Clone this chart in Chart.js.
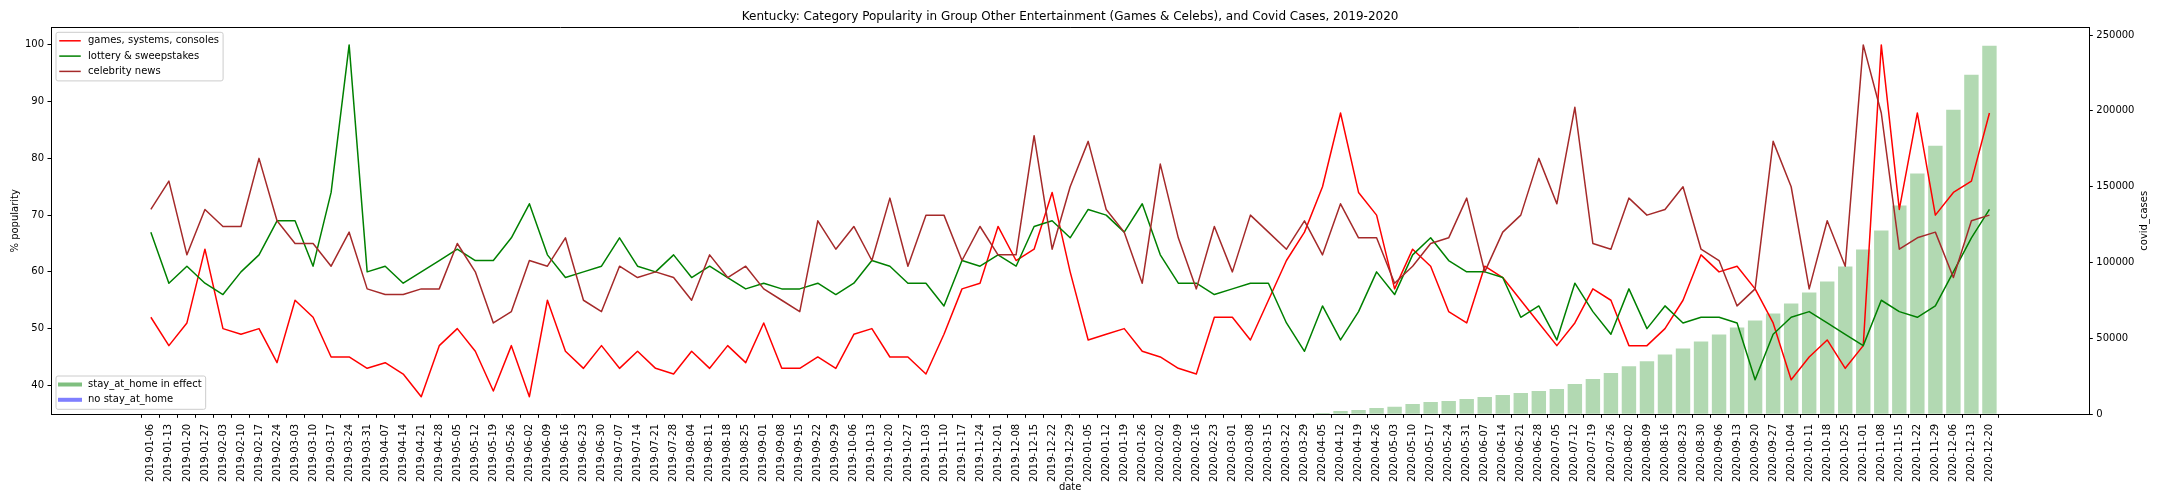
<!DOCTYPE html>
<html>
<head>
<meta charset="utf-8">
<script src="https://cdn.jsdelivr.net/npm/chart.js@4.4.1/dist/chart.umd.min.js"></script>
<style>
html,body{margin:0;padding:0;background:#fff;}
#wrap{width:2160px;height:504px;position:relative;}
canvas{display:block;}
</style>
</head>
<body>
<div id="wrap"><canvas id="c" width="2160" height="504"></canvas></div>
<script>
// ---------- DATA ----------
const dates = [
'2019-01-06','2019-01-13','2019-01-20','2019-01-27','2019-02-03','2019-02-10','2019-02-17','2019-02-24',
'2019-03-03','2019-03-10','2019-03-17','2019-03-24','2019-03-31','2019-04-07','2019-04-14','2019-04-21',
'2019-04-28','2019-05-05','2019-05-12','2019-05-19','2019-05-26','2019-06-02','2019-06-09','2019-06-16',
'2019-06-23','2019-06-30','2019-07-07','2019-07-14','2019-07-21','2019-07-28','2019-08-04','2019-08-11',
'2019-08-18','2019-08-25','2019-09-01','2019-09-08','2019-09-15','2019-09-22','2019-09-29','2019-10-06',
'2019-10-13','2019-10-20','2019-10-27','2019-11-03','2019-11-10','2019-11-17','2019-11-24','2019-12-01',
'2019-12-08','2019-12-15','2019-12-22','2019-12-29',
'2020-01-05','2020-01-12','2020-01-19','2020-01-26','2020-02-02','2020-02-09','2020-02-16','2020-02-23',
'2020-03-01','2020-03-08','2020-03-15','2020-03-22','2020-03-29','2020-04-05','2020-04-12','2020-04-19',
'2020-04-26','2020-05-03','2020-05-10','2020-05-17','2020-05-24','2020-05-31','2020-06-07','2020-06-14',
'2020-06-21','2020-06-28','2020-07-05','2020-07-12','2020-07-19','2020-07-26','2020-08-02','2020-08-09',
'2020-08-16','2020-08-23','2020-08-30','2020-09-06','2020-09-13','2020-09-20','2020-09-27','2020-10-04',
'2020-10-11','2020-10-18','2020-10-25','2020-11-01','2020-11-08','2020-11-15','2020-11-22','2020-11-29',
'2020-12-06','2020-12-13','2020-12-20'
];

const games = [
52,47,51,64,50,49,50,44,55,52,45,45,
43,44,42,38,47,50,46,39,47,38,55,46,43,47,43,46,43,
42,46,43,47,44,51,43,43,45,43,49,50,45,45,42,49,57,58,
68,62,64,74,60,48,49,50,46,45,43,42,52,52,48,55,62,67,
75,88,74,70,57,64,61,53,51,61,59,55,51,47,51,57,55,47,
47,50,55,63,60,61,57,51,41,45,48,43,47,100,71,88,70,74,76,88
];

const lottery = [
67,58,61,58,56,60,63,69,69,61,74,100,
60,61,58,60,62,64,62,62,66,72,63,59,60,61,66,61,60,
63,59,61,59,57,58,57,57,58,56,58,62,61,58,58,54,62,61,
63,61,68,69,66,71,70,67,72,63,58,58,56,57,58,58,51,46,
54,48,53,60,56,63,66,62,60,60,59,52,54,48,58,53,49,57,
50,54,51,52,52,51,41,49,52,53,51,49,47,55,53,52,54,60,66,71
];

const celebrity = [
71,76,63,71,68,68,80,69,65,65,61,67,
57,56,56,57,57,65,60,51,53,62,61,66,55,53,61,59,60,
59,55,63,59,61,57,55,53,69,64,68,62,73,61,70,70,62,68,
63,63,84,64,75,83,71,67,58,79,66,57,68,60,70,67,64,69,
63,72,66,66,58,61,65,66,73,60,67,70,80,72,89,65,64,73,
70,71,75,64,62,54,57,83,75,57,69,61,100,88,64,66,67,59,69,70
];

const covidCases = [
0,0,0,0,0,0,0,0,0,0,0,0,0,0,0,0,0,0,0,0,
0,0,0,0,0,0,0,0,0,0,0,0,0,0,0,0,0,0,0,0,
0,0,0,0,0,0,0,0,0,0,0,0,0,0,0,0,0,0,0,0,
0,0,20,100,
500,900,2200,2900,4100,4900,6800,8100,8800,10100,11400,12700,14000,15400,16700,
20000,23300,27200,31600,34900,39500,43400,48000,52600,57200,61800,66400,73000,
80300,87500,97400,108600,121100,137600,158700,177100,200800,223900,243000
];

const leftTicks = [40,50,60,70,80,90,100];
const rightTicks = [0,50000,100000,150000,200000,250000];
const lineLabels = ['games, systems, consoles','lottery & sweepstakes','celebrity news'];
const lineColors = ['#ff0000','#008000','#a52a2a'];
const stayLabels = ['stay_at_home in effect','no stay_at_home'];
const stayColors = ['rgba(0,128,0,0.5)','rgba(0,0,255,0.5)'];
const titleText = 'Kentucky: Category Popularity in Group Other Entertainment (Games & Celebs), and Covid Cases, 2019-2020';
const xTitle = 'date';
const yTitle = '% popularity';
const y2Title = 'covid_cases';

// ---------- CHART ----------
const FF = "'DejaVu Sans', sans-serif";
Chart.defaults.font.family = FF;
Chart.defaults.font.size = 10;
Chart.defaults.color = '#000';

const pts = arr => arr.map((v, i) => ({x: i, y: v}));
const seriesList = [games, lottery, celebrity];

const datasets = [{
  type: 'bar',
  label: y2Title,
  data: pts(covidCases),
  yAxisID: 'y1',
  xAxisID: 'x',
  backgroundColor: 'rgba(0,128,0,0.3)',
  borderWidth: 0,
  barPercentage: 0.8,
  categoryPercentage: 1.0,
  order: 10
}];
seriesList.forEach((s, k) => {
  datasets.push({
    type: 'line',
    label: lineLabels[k],
    data: pts(s),
    yAxisID: 'y',
    xAxisID: 'x',
    borderColor: lineColors[k],
    backgroundColor: lineColors[k],
    borderWidth: 1.5,
    pointRadius: 0,
    tension: 0,
    fill: false,
    borderJoinStyle: 'round',
    order: 3 - k
  });
});

const axisGrid = {drawOnChartArea: false, drawTicks: true, tickLength: 3.5, tickColor: '#000', tickWidth: 1};
const axisBorder = {display: true, color: '#000', width: 1};

function drawLegend(ctx, left, top, labels, colors, lw) {
  ctx.save();
  ctx.font = '10px ' + FF;
  const pad = 4, handle = 20, gap = 8, row = 15.3, first = 8.5, last = 9.5;
  const tw = Math.max(...labels.map(l => ctx.measureText(l).width));
  const w = pad + handle + gap + tw + pad;
  const h = first + (labels.length - 1) * row + last;
  const r = 2;
  ctx.beginPath();
  ctx.moveTo(left + r, top);
  ctx.lineTo(left + w - r, top);
  ctx.arcTo(left + w, top, left + w, top + r, r);
  ctx.lineTo(left + w, top + h - r);
  ctx.arcTo(left + w, top + h, left + w - r, top + h, r);
  ctx.lineTo(left + r, top + h);
  ctx.arcTo(left, top + h, left, top + h - r, r);
  ctx.lineTo(left, top + r);
  ctx.arcTo(left, top, left + r, top, r);
  ctx.closePath();
  ctx.fillStyle = 'rgba(255,255,255,0.8)';
  ctx.fill();
  ctx.strokeStyle = '#cccccc';
  ctx.lineWidth = 1;
  ctx.stroke();
  labels.forEach((l, k) => {
    const cy = top + first + k * row;
    ctx.beginPath();
    ctx.strokeStyle = colors[k];
    ctx.lineWidth = lw;
    ctx.lineCap = 'square';
    ctx.moveTo(left + pad, cy);
    ctx.lineTo(left + pad + handle, cy);
    ctx.stroke();
    ctx.fillStyle = '#000';
    ctx.textAlign = 'left';
    ctx.textBaseline = 'middle';
    ctx.fillText(l, left + pad + handle + gap, cy);
  });
  ctx.restore();
  return h;
}

const decorPlugin = {
  id: 'decor',
  afterDraw(chart) {
    const ctx = chart.ctx;
    const a = chart.chartArea;
    ctx.save();
    // top spine
    ctx.strokeStyle = '#000';
    ctx.lineWidth = 1;
    ctx.beginPath();
    const ty = Math.round(a.top) + 0.5;
    ctx.moveTo(a.left, ty);
    ctx.lineTo(a.right, ty);
    ctx.stroke();
    // title
    ctx.fillStyle = '#000';
    ctx.font = '12px ' + FF;
    ctx.textAlign = 'center';
    ctx.textBaseline = 'middle';
    ctx.fillText(titleText, (a.left + a.right) / 2, 16.5);
    // right axis title
    ctx.font = '10px ' + FF;
    ctx.translate(2144, (a.top + a.bottom) / 2);
    ctx.rotate(-Math.PI / 2);
    ctx.fillText(y2Title, 0, 0);
    ctx.restore();
    // legends
    drawLegend(ctx, a.left + 5, a.top + 5, lineLabels, lineColors, 1.5);
    const h2 = 8.5 + 15.3 + 9.5;
    drawLegend(ctx, a.left + 5, a.bottom - 5 - h2, stayLabels, stayColors, 4);
  }
};

new Chart(document.getElementById('c'), {
  type: 'line',
  data: {datasets},
  options: {
    responsive: false,
    maintainAspectRatio: false,
    devicePixelRatio: 1,
    animation: false,
    layout: {padding: {top: 27.3, left: 0, right: 0, bottom: 0}},
    plugins: {legend: {display: false}, tooltip: {enabled: false}, title: {display: false}},
    scales: {
      x: {
        type: 'linear',
        min: -5.54,
        max: 107.54,
        offset: false,
        grid: axisGrid,
        border: axisBorder,
        afterBuildTicks: s => { s.ticks = dates.map((d, i) => ({value: i})); },
        ticks: {
          autoSkip: false, maxRotation: 90, minRotation: 90, padding: 6,
          color: '#000', font: {size: 10},
          callback: v => dates[v]
        },
        title: {display: true, text: xTitle, color: '#000', font: {size: 10}, padding: {top: 0, bottom: 10.7}},
        afterFit: s => { s.height = 89.7; }
      },
      y: {
        type: 'linear',
        position: 'left',
        min: 34.9,
        max: 103.1,
        grid: axisGrid,
        border: axisBorder,
        afterBuildTicks: s => { s.ticks = leftTicks.map(v => ({value: v})); },
        ticks: {padding: 3.5, color: '#000', font: {size: 10}, callback: v => String(v)},
        title: {display: true, text: yTitle, color: '#000', font: {size: 10}, padding: {top: 9, bottom: 0}},
        afterFit: s => { s.width = 51; }
      },
      y1: {
        type: 'linear',
        position: 'right',
        min: 0,
        max: 255100,
        grid: axisGrid,
        border: axisBorder,
        afterBuildTicks: s => { s.ticks = rightTicks.map(v => ({value: v})); },
        ticks: {padding: 3.5, color: '#000', font: {size: 10}, callback: v => String(v)},
        title: {display: false},
        afterFit: s => { s.width = 70.7; }
      }
    }
  },
  plugins: [decorPlugin]
});
</script>
</body>
</html>
